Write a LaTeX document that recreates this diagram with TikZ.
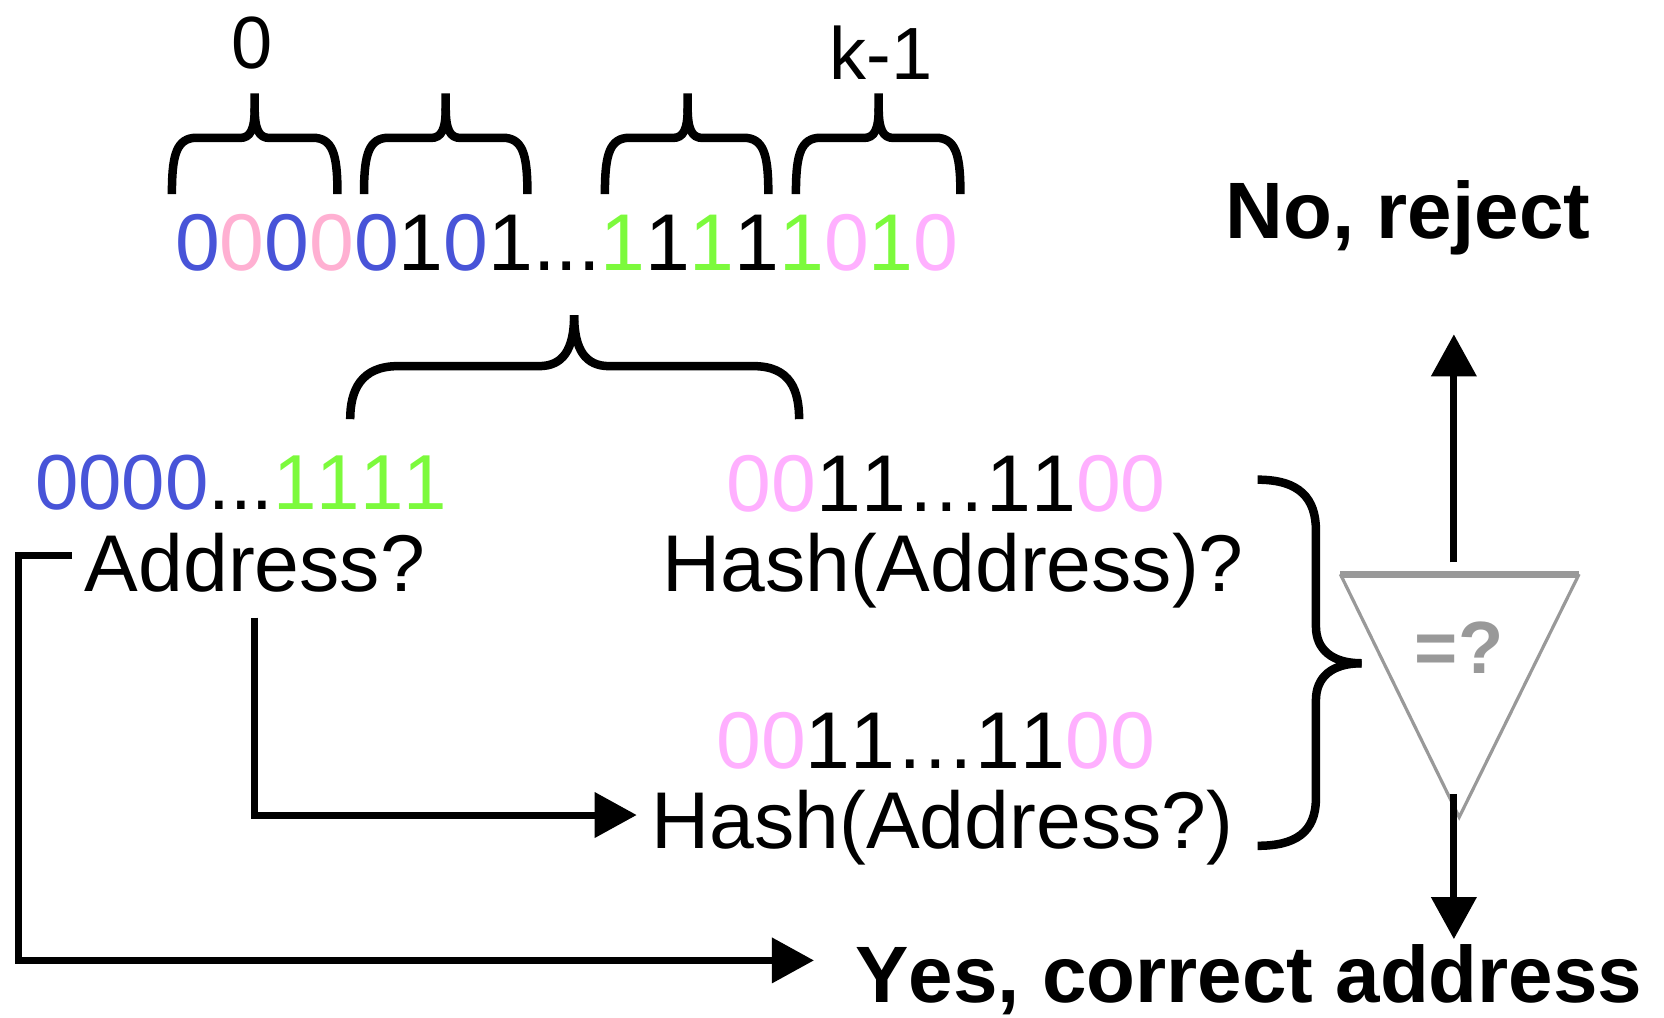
\documentclass[tikz,border=0pt]{standalone}
\usepackage{fontspec}
\setmainfont[Kerning=Off]{Liberation Sans}
\usetikzlibrary{arrows.meta}
\definecolor{cblue}{RGB}{72,84,216}
\definecolor{cpink}{RGB}{255,176,210}
\definecolor{cmag}{RGB}{255,176,255}
\definecolor{cgreen}{RGB}{124,250,60}
\definecolor{cgray}{RGB}{153,153,153}
\begin{document}
\begin{tikzpicture}[x=1.0612pt,y=-1.0612pt,
  txt/.style={inner sep=0pt, outer sep=0pt, anchor=base west, font=\fontsize{80.5}{90}\selectfont},
  lbl/.style={inner sep=0pt, outer sep=0pt, anchor=base, font=\fontsize{74}{84}\selectfont},
  bld/.style={inner sep=0pt, outer sep=0pt, anchor=base west, font=\fontsize{80}{90}\selectfont\bfseries},
  brace/.style={line width=8.5pt, line cap=butt},
  arr/.style={line width=7pt, -{Triangle[length=42pt,width=44pt]}},
  conn/.style={line width=7pt}]
\useasboundingbox (0,0) rectangle (1568,959);

% labels over braces
\node[lbl] (lzero) at (238,65) {0};
\node[lbl] (lk) at (830,75) {k-1};

% four small braces
\foreach \a/\m/\b in {162/240/318, 343/420/497, 570/648/724, 750/828/905}{
  \draw[brace] (\a,183) .. controls (\a,150) and (\a+3,132) .. (\a+20,130)
     -- (\m-14,130) .. controls (\m-4,130) and (\m,122) .. (\m,102) -- (\m,88);
  \draw[brace] (\m,102) .. controls (\m,122) and (\m+4,130) .. (\m+14,130)
     -- (\b-20,130) .. controls (\b-3,132) and (\b,150) .. (\b,183);
}

% bit string
\node[txt] (bits) at (165,255) {\textcolor{cblue}{0}\textcolor{cpink}{0}\textcolor{cblue}{0}\textcolor{cpink}{0}\textcolor{cblue}{0}1\textcolor{cblue}{0}1...\textcolor{cgreen}{1}1\textcolor{cgreen}{1}1\textcolor{cgreen}{1}\textcolor{cmag}{0}\textcolor{cgreen}{1}\textcolor{cmag}{0}};

% big middle brace
\draw[brace] (330,395) .. controls (330,368) and (340,345) .. (375,345) -- (508,345)
   .. controls (530,345) and (541,330) .. (541,297);
\draw[brace] (541,297) .. controls (541,330) and (552,345) .. (574,345) -- (710,345)
   .. controls (745,345) and (753,368) .. (753,395);

% texts
\node[txt, font=\fontsize{78}{90}\selectfont] (addrbits) at (33,480) {\textcolor{cblue}{0000}...\textcolor{cgreen}{1111}};
\node[txt] (addr) at (80,557) {Address?};
\node[txt] (hbits1) at (685,482) {\textcolor{cmag}{00}11…11\textcolor{cmag}{00}};
\node[txt] (hash1) at (624,557) {Hash(Address)?};
\node[txt] (hbits2) at (675,724) {\textcolor{cmag}{00}11…11\textcolor{cmag}{00}};
\node[txt] (hash2) at (614,800) {Hash(Address?)};
\node[bld] (reject) at (1155,225) {No, reject};
\node[bld] (accept) at (806,945) {Yes, correct address};

% right brace
\draw[brace] (1185,452) .. controls (1225,452) and (1240,470) .. (1240,500) -- (1240,590)
   .. controls (1240,612) and (1255,625) .. (1283,625);
\draw[brace] (1283,625) .. controls (1255,625) and (1240,638) .. (1240,660) -- (1240,752)
   .. controls (1240,785) and (1220,797) .. (1185,797);

% comparator triangle
\coordinate (tl) at (1263,541);
\coordinate (tr) at (1488,541);
\coordinate (tb) at (1375,770);
\draw[cgray, line width=3.2pt, line join=miter] (tl) -- (tb) -- (tr);
\draw[cgray, line width=7pt] (tl) -- (tr);
\node[inner sep=0pt, font=\fontsize{74}{80}\selectfont\bfseries, text=cgray] (eq) at (1375,610) {=?};

% arrows
\coordinate (upS) at (1370,530);
\coordinate (upE) at (1370,315);
\draw[arr] (upS) -- (upE);
\coordinate (dnS) at (1370,748);
\coordinate (dnE) at (1370,885);
\draw[arr] (dnS) -- (dnE);

\coordinate (a1) at (68,523);
\coordinate (a2) at (17,523);
\coordinate (a3) at (17,905);
\coordinate (a4) at (767,905);
\draw[arr, line join=miter] (a1) -- (a2) -- (a3) -- (a4);

\coordinate (b1) at (240,582);
\coordinate (b2) at (240,768);
\coordinate (b3) at (600,768);
\draw[arr, line join=miter] (b1) -- (b2) -- (b3);
\end{tikzpicture}
\end{document}
